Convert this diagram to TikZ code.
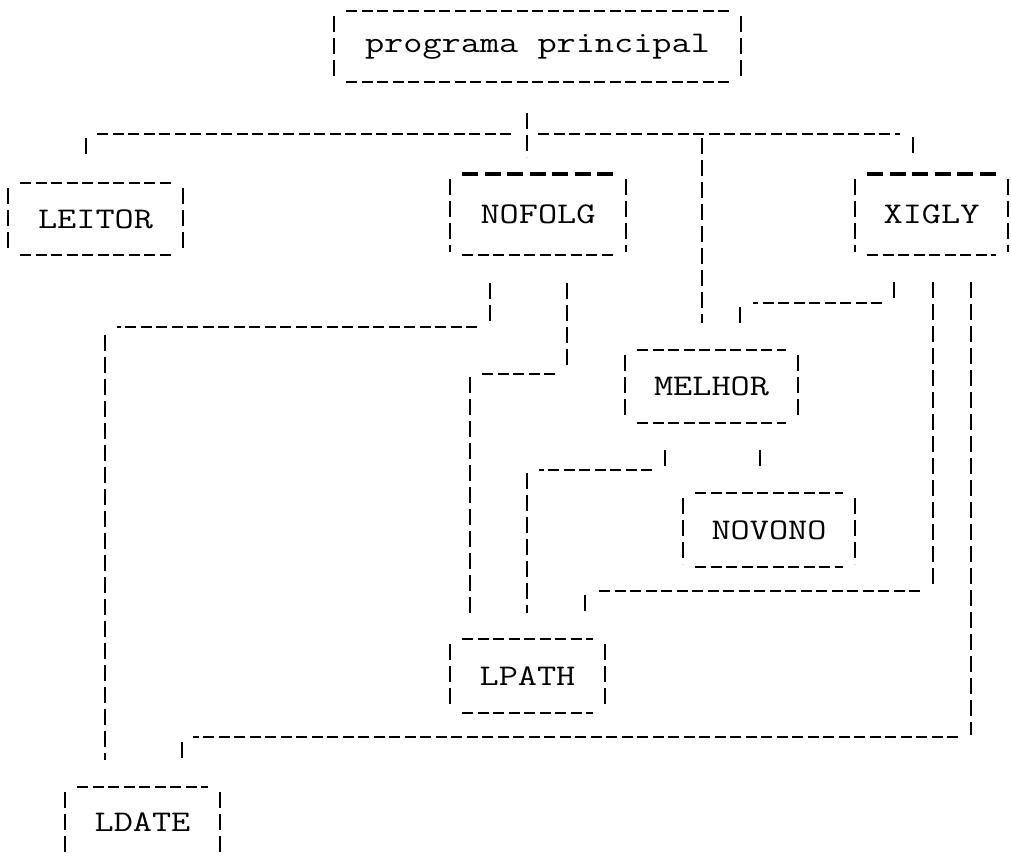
\documentclass[tikz,border=0pt]{standalone}
\usepackage{fontspec}
\usetikzlibrary{calc}
\newcommand\lbltext[1]{\scalebox{1.24}[1]{\fontsize{30}{36}\selectfont\ttfamily #1}}
\tikzset{
  hl/.style={line width=1.8pt, dash pattern=on 11pt off 4.5pt},
  hb/.style={line width=3.6pt, dash pattern=on 16pt off 6.5pt},
  vl/.style={line width=2pt, dash pattern=on 16pt off 6pt},
  lbl/.style={inner sep=0pt, outer sep=0pt}
}
% #1 name, #2 left, #3 top, #4 right, #5 bottom, #6 text, #7 top style
\newcommand\mybox[7]{%
  \node[lbl, minimum width={(#4-#2)*1pt}, minimum height={(#5-#3)*1pt}] (#1) at ({(#2+#4)/2},{(#3+#5)/2}) {\lbltext{#6}};
  \draw[#7] ([xshift=12pt]#1.north west) -- ([xshift=-12pt]#1.north east);
  \draw[hl] ([xshift=12pt]#1.south west) -- ([xshift=-12pt]#1.south east);
  \draw[vl] ([yshift=-5pt]#1.north west) -- ([yshift=3pt]#1.south west);
  \draw[vl] ([yshift=-5pt]#1.north east) -- ([yshift=3pt]#1.south east);
}
\begin{document}
\begin{tikzpicture}[x=1pt,y=-1pt]
\fill[white] (0,0) rectangle (1011,855);
\useasboundingbox (0,0) rectangle (1011,855);

% boxes
\mybox{main}{334}{11}{741}{82}{programa principal}{hl}
\mybox{leitor}{8}{183}{183}{255}{LEITOR}{hl}
\mybox{nofolg}{450}{174}{626}{255}{NOFOLG}{hb}
\mybox{xigly}{855}{174}{1008}{255}{XIGLY}{hb}
\mybox{melhor}{625}{350}{798}{423}{MELHOR}{hl}
\mybox{novono}{683}{493}{855}{567}{NOVONO}{hl}
\mybox{lpath}{450}{639}{605}{713}{LPATH}{hl}
% LDATE (bottom edge cut off by the page)
\node[lbl, minimum width=155pt, minimum height=70pt] (ldate) at (142.5,822) {\lbltext{LDATE}};
\draw[hl] ([xshift=12pt]ldate.north west) -- ([xshift=-12pt]ldate.north east);
\draw[vl] ([yshift=-5pt]ldate.north west) -- (65,855);
\draw[vl] ([yshift=-5pt]ldate.north east) -- (220,855);

% top bus
\draw[hl] (97,134) -- (515,134);
\draw[hl] (538,134) -- (900,134);
\draw[vl] (86,138) -- (86,157);
\draw[vl] (527,113) -- (527,157);
\draw[vl] (702,138) -- (702,323);
\draw[vl] (913,137) -- (913,155);

% XIGLY -> MELHOR
\draw[vl] (894,282) -- (894,300);
\draw[hl] (882,303) -- (753,303);
\draw[vl] (740,307) -- (740,323);

% XIGLY -> LPATH
\draw[vl] (933,282) -- (933,588);
\draw[hl] (920,591) -- (598,591);
\draw[vl] (585,595) -- (585,612);

% XIGLY -> LDATE
\draw[vl] (971,282) -- (971,735);
\draw[hl] (958,737) -- (193,737);
\draw[vl] (182,742) -- (182,760);

% NOFOLG -> LDATE
\draw[vl] (490,283) -- (490,323);
\draw[hl] (477,327) -- (117,327);
\draw[vl] (105,335) -- (105,760);

% NOFOLG -> LPATH
\draw[vl] (567,283) -- (567,370);
\draw[hl] (555,374) -- (482,374);
\draw[vl] (470,377) -- (470,613);

% MELHOR -> LPATH
\draw[vl] (665,450) -- (665,468);
\draw[hl] (652,470) -- (539,470);
\draw[vl] (527,473) -- (527,613);

% MELHOR -> NOVONO
\draw[vl] (760,450) -- (760,467);
\end{tikzpicture}
\end{document}
